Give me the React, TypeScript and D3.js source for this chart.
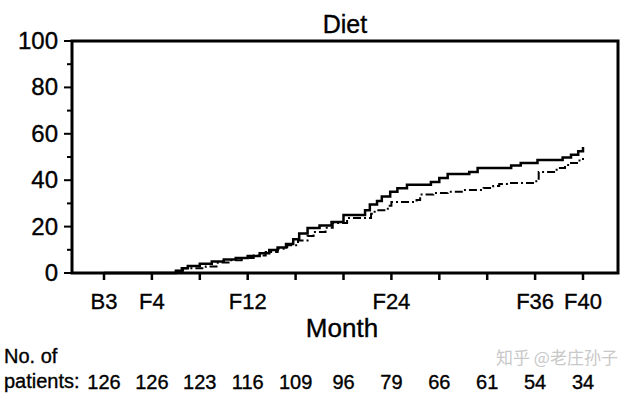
import React from "react";
import * as d3 from "d3";

const tickMonths = [0, 4, 8, 12, 16, 20, 24, 28, 32, 36, 40];
const tickLabels = ["B3", "F4", "", "F12", "", "", "F24", "", "", "F36", "F40"];
const patients = [126, 126, 123, 116, 109, 96, 79, 66, 61, 54, 34];
const yTicks = [0, 20, 40, 60, 80, 100];
const yMinor = [10, 30, 50, 70, 90];

const solidMonths = [0, 5.6, 6.0, 6.5, 7.0, 8.0, 9.0, 10, 11, 12, 13, 13.8, 14.5, 15.2, 15.8, 16.3, 17, 18, 19, 20, 21.8, 22.2, 22.8, 23.2, 23.9, 24.5, 25.3, 27.3, 28.0, 28.7, 30.5, 31.2, 34.0, 34.8, 36.2, 38.3, 39.0, 39.6, 40];
const solidValues = [0, 0, 1, 2, 3, 4, 5, 5.8, 6.5, 7.3, 8.5, 9.9, 11, 12.5, 14.5, 17, 19.4, 20.5, 22, 25, 27, 29.5, 31, 33, 35, 36.5, 38, 39.2, 41, 42.7, 43.5, 45.3, 46.3, 47.4, 48.7, 49.8, 51, 52.5, 54.3];

const dashMonths = [0, 5.6, 6.0, 6.6, 8.5, 9.5, 10.5, 11.5, 12.5, 13.5, 14.5, 15.3, 16.2, 17, 17.5, 18.5, 19.1, 20.3, 22.3, 22.6, 23.7, 24, 26.1, 26.4, 27.5, 28.7, 30, 31.7, 32.5, 33, 33.9, 36.1, 36.3, 37.8, 38.5, 38.9, 39.5, 40];
const dashValues = [0, 0, 1, 2, 2.8, 4.5, 5.5, 6.5, 7.5, 9, 10.5, 12, 14, 16, 17.7, 19.5, 21.5, 23.7, 25.5, 27, 29, 30.6, 31.5, 33.8, 34.5, 35, 35.8, 36.6, 37.5, 38.4, 38.8, 40, 43.5, 45.3, 46.5, 47.4, 48.5, 49.6];

const W = 642;
const H = 401;
const left = 72;
const right = 618;
const top = 41;
const bottom = 273;
const FONT = "'Liberation Sans', Arial, Helvetica, sans-serif";

export default function App() {
  const x = d3.scaleLinear().domain([0, 40]).range([104, 583]);
  const y = d3.scaleLinear().domain([0, 100]).range([bottom, top]);
  const line = d3
    .line<[number, number]>()
    .x((d) => x(d[0]))
    .y((d) => y(d[1]))
    .curve(d3.curveStepAfter);
  const solid = solidMonths.map((m, i) => [m, solidValues[i]] as [number, number]);
  const dash = dashMonths.map((m, i) => [m, dashValues[i]] as [number, number]);
  const ts = { stroke: "#000", strokeWidth: 0.35 };

  return (
    <svg
      width={W}
      height={H}
      style={{ position: "absolute", left: 0, top: 0, background: "#fff" }}
      fontFamily={FONT}
    >
      <rect x={0} y={0} width={W} height={H} fill="#fff" />
      <text x={345} y={33} fontSize={25} textAnchor="middle" {...ts}>Diet</text>
      <path d={line(dash) || ""} fill="none" stroke="#000" strokeWidth={2} strokeDasharray="8,3,2,3" />
      <path d={line(solid) || ""} fill="none" stroke="#000" strokeWidth={2.5} />
      <rect x={left} y={top} width={right - left} height={bottom - top} fill="none" stroke="#000" strokeWidth={3} />
      {yTicks.map((t) => (
        <g key={"y" + t}>
          <line x1={left - 8} x2={left} y1={y(t)} y2={y(t)} stroke="#000" strokeWidth={2} />
          <text x={left - 14} y={y(t) + 8} fontSize={24} textAnchor="end" {...ts}>{t}</text>
        </g>
      ))}
      {yMinor.map((t) => (
        <line key={"ym" + t} x1={left - 5} x2={left} y1={y(t)} y2={y(t)} stroke="#000" strokeWidth={2} />
      ))}
      {tickMonths.map((m, i) => (
        <g key={"x" + m}>
          <line x1={x(m)} x2={x(m)} y1={bottom} y2={bottom + 7} stroke="#000" strokeWidth={2.5} />
          <text x={x(m)} y={309} fontSize={22} textAnchor="middle" {...ts}>{tickLabels[i]}</text>
          <text x={x(m)} y={389} fontSize={20} textAnchor="middle" {...ts}>{patients[i]}</text>
        </g>
      ))}
      <text x={342} y={337} fontSize={26} textAnchor="middle" {...ts}>Month</text>
      <text x={4} y={363} fontSize={20} {...ts}>No. of</text>
      <text x={4} y={388} fontSize={20} {...ts}>patients:</text>
      <text x={496} y={364} fontSize={17} fill="#c8c8c8" fontFamily="'Noto Sans CJK SC', sans-serif">知乎 @老庄孙子</text>
    </svg>
  );
}
